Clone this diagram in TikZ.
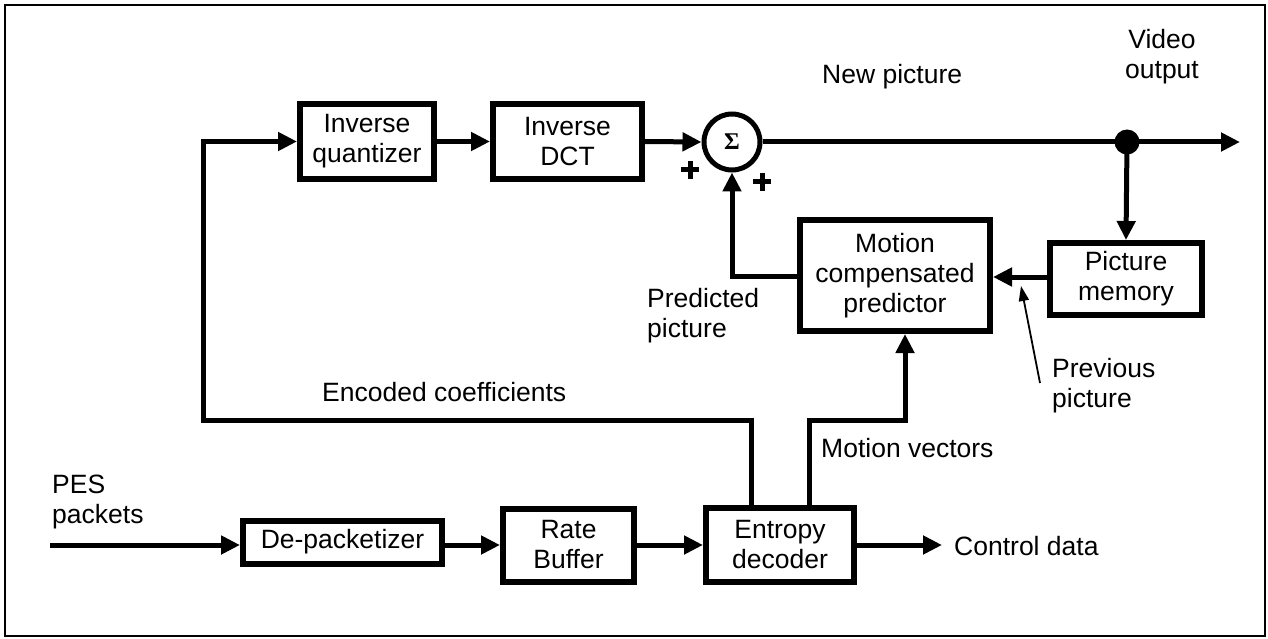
\documentclass[tikz,border=0pt]{standalone}
\usepackage{fontspec}
\setmainfont{Liberation Sans}
\newfontfamily\sigfont{Liberation Serif}
\usetikzlibrary{arrows.meta,calc}
\begin{document}
\begin{tikzpicture}[x=1pt,y=-1pt,
  txt/.style={font=\fontsize{26.5}{30}\selectfont},
  blk/.style={draw,line width=6pt,inner sep=0pt,align=center,txt},
  arr/.style={line width=5pt,-{Triangle[length=19pt,width=18pt]}},
  thinarr/.style={line width=1.8pt,-{Triangle[length=15pt,width=10pt]}},
  lbl/.style={txt,inner sep=0pt,align=left,anchor=west}
]
\useasboundingbox (0,0) rectangle (1268,639);
\draw[line width=2.5pt] (5,5) rectangle (1265,636);

% blocks
\node[blk,minimum width=134pt,minimum height=75pt] (iq) at (367,141.5) {Inverse\\quantizer};
\node[blk,minimum width=149pt,minimum height=75pt] (idct) at (567.5,141.5) {Inverse\\DCT};
\node[circle,draw,line width=5pt,minimum size=56pt,inner sep=0pt] (sig) at (732,142) {\sigfont\bfseries\fontsize{24}{24}\selectfont Σ};
\node[blk,minimum width=190pt,minimum height=111pt] (mcp) at (895,275.5) {Motion\\compensated\\predictor};
\node[blk,minimum width=152pt,minimum height=72pt] (pm) at (1126,279) {Picture\\memory};
\node[blk,minimum width=148pt,minimum height=74pt] (ent) at (780,545) {Entropy\\decoder};
\node[blk,minimum width=131pt,minimum height=73pt] (rb) at (568.5,545) {Rate\\Buffer};
\node[blk,minimum width=199pt,minimum height=43pt] (dep) at (342.5,542) {De-packetizer};
\node[circle,fill,minimum size=25pt,inner sep=0pt] (dot) at (1127,142) {};

% coordinates
\coordinate (in) at (50,545);
\coordinate (out) at (1240,142);
\coordinate (ctl) at (942,545);
\coordinate (fbA) at (751,420);
\coordinate (fbB) at (203,420);
\coordinate (mvA) at (809,420);
\coordinate (mvB) at (905,420);
\coordinate (prA) at (732,276);
\coordinate (ppS) at (1040,383);
\coordinate (ppE) at (1021,286);

% connectors
\draw[arr] (in) -- (dep.west |- in);
\draw[arr] (dep.east |- in) -- (rb.west |- in);
\draw[arr] (rb.east) -- (ent.west);
\draw[arr] (ent.east) -- (ctl);
\draw[arr] (fbA |- ent.north) -- (fbA) -- (fbB) |- (iq.west);
\draw[arr] (iq.east) -- (idct.west);
\draw[arr] (idct.east) -- (sig.west);
\draw[arr] (sig.east) -- (out);
\draw[arr] (dot.center) -- (pm.north);
\draw[arr] (mvA |- ent.north) -- (mvA) -- (mvB) -- (mvB |- mcp.south);
\draw[arr] (pm.west |- 0,277) -- (mcp.east |- 0,277);
\draw[arr] (mcp.west |- prA) -- (prA) -- (sig.south);
\draw[thinarr] (ppS) -- (ppE);

% plus signs
\foreach \p in {(690,170),(762,182)} {
  \draw[line width=5pt] \p ++(-9,0) -- ++(18,0);
  \draw[line width=5pt] \p ++(0,-9) -- ++(0,18);
}

% labels
\node[txt,inner sep=0pt,align=center] (vo) at (1162,57) {Video\\output};
\node[lbl] (np) at (822,77) {New picture};
\node[lbl] (pp) at (647,316) {Predicted\\picture};
\node[lbl] (ec) at (322,392) {Encoded coefficients};
\node[lbl] (mv) at (821,448) {Motion vectors};
\node[lbl] (pv) at (1052,386) {Previous\\picture};
\node[lbl] (cd) at (954,546) {Control data};
\node[lbl] (pes) at (52,502) {PES\\packets};
\end{tikzpicture}
\end{document}
